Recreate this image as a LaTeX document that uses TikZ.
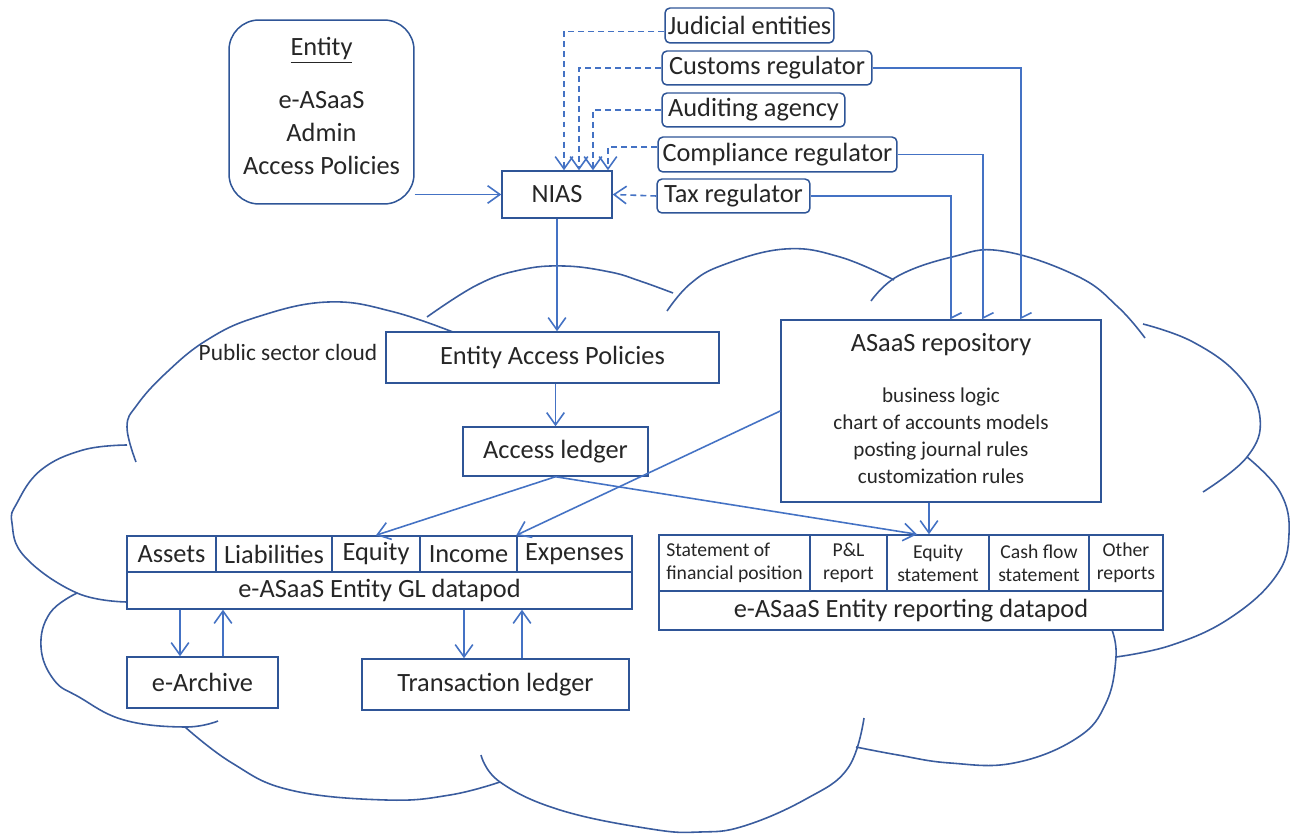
\documentclass[tikz,border=0pt]{standalone}
\usepackage{fontspec}
\setmainfont{Carlito}
\usepackage{xcolor}
\usepackage{tikz}
\usetikzlibrary{arrows.meta, calc, positioning}

\definecolor{boxblue}{HTML}{2F5597}
\definecolor{lineblue}{HTML}{4472C4}
\definecolor{cloudblue}{HTML}{3A5C9E}

\begin{document}
\begin{tikzpicture}[x=0.02cm,y=-0.02cm,
                    box node/.style={draw=boxblue,fill=white,line width=0.85pt,inner sep=0pt,align=center,text=black!85,font=\fontsize{15}{18.7}\selectfont},
                    reg node/.style={box node,rounded corners=0.1cm},
                    cell node/.style={box node,minimum height=0.72cm},
                    rep node/.style={box node,minimum height=1.12cm,font=\fontsize{11.2}{13}\selectfont},
                    text node/.style={inner sep=0pt,align=center,text=black!85},
                    arr/.style={draw=lineblue,line width=0.9pt,-{Straight Barb[length=7pt,width=10pt]}},
                    dash arr/.style={arr,dash pattern=on 3.4pt off 2.3pt},
                    half arr/.style={draw=lineblue,line width=0.9pt,-{Straight Barb[left,length=3pt,width=12pt]}},
                    cloud line/.style={draw=cloudblue,line width=0.9pt}]

 \fill[white] (0,0) rectangle (1292,834);
 \useasboundingbox (0,0) rectangle (1292,834);

 % public sector cloud, one bump after the other
 \draw[cloud line] plot[smooth,tension=0.7] coordinates {(136,462) (127,427) (137,405) (166,373) (207,340) (257,317) (328,302) (394,312) (463,336)};
 \draw[cloud line] plot[smooth,tension=0.7] coordinates {(427,317) (477,285) (520,270) (564,266) (610,272) (640,281) (673,293)};
 \draw[cloud line] plot[smooth,tension=0.7] coordinates {(667,311) (690,284) (723,265) (785,249) (840,257) (894,280)};
 \draw[cloud line] plot[smooth,tension=0.7] coordinates {(871,301) (898,276) (952,257) (1002,251) (1077,276) (1118,307) (1145,338)};
 \draw[cloud line] plot[smooth,tension=0.7] coordinates {(1143,324) (1193,342) (1239,376) (1260,418) (1247,457) (1203,492)};
 \draw[cloud line] plot[smooth,tension=0.7] coordinates {(1247,457) (1280,492) (1289,534) (1276,576) (1230,618) (1172,645) (1116,657)};
 \draw[cloud line] plot[smooth,tension=0.7] coordinates {(1112,630) (1116,657) (1106,703) (1077,738) (1014,763) (950,763) (898,755) (856,747)};
 \draw[cloud line] plot[smooth,tension=0.7] coordinates {(864,718) (848,768) (806,799) (744,826) (700,832) (651,829) (560,810) (500,782) (481,755)};
 \draw[cloud line] plot[smooth,tension=0.7] coordinates {(185,727) (232,763) (290,790) (386,800) (450,795) (500,782)};
 \draw[cloud line] plot[smooth,tension=0.7] coordinates {(77,593) (50,613) (41,647) (54,680) (79,697) (124,720) (185,727) (218,721)};
 \draw[cloud line] plot[smooth,tension=0.7] coordinates {(127,445) (83,450) (41,470) (17,503) (12,523) (25,557) (77,593) (127,602)};

 \node[text node,font=\fontsize{13.3}{16}\selectfont] (cloudname) at (288,352) {Public sector cloud};

 \node[box node,rounded corners=0.6cm,minimum width=3.7cm,minimum height=3.68cm] (entity) at (321.5,112) {};
 \node[text node,font=\fontsize{15}{18.7}\selectfont] (entitytext) at (321.5,106) {\underline{Entity}\\[0.4cm] e-ASaaS\\ Admin\\ Access Policies};

 \node[box node,minimum width=2.2cm,minimum height=0.94cm] (nias) at (557,194.5) {NIAS};

 \node[reg node,minimum width=3.38cm,minimum height=0.7cm] (judicial) at (749.5,25.5) {Judicial entities};
 \node[reg node,minimum width=4.2cm,minimum height=0.68cm] (customs) at (767,68) {Customs regulator};
 \node[reg node,minimum width=3.66cm,minimum height=0.68cm] (auditing) at (753.5,110) {Auditing agency};
 \node[reg node,minimum width=4.78cm,minimum height=0.7cm] (compliance) at (777.5,154.5) {Compliance regulator};
 \node[reg node,minimum width=3.06cm,minimum height=0.68cm] (tax) at (733.5,196) {Tax regulator};

 \node[box node,minimum width=6.66cm,minimum height=1.02cm] (eap) at (552.5,357.5) {Entity Access Policies};
 \node[box node,minimum width=3.7cm,minimum height=0.98cm] (accessl) at (555.5,451.5) {Access ledger};

 \node[box node,minimum width=6.4cm,minimum height=3.64cm] (repo) at (941,411) {};
 \node[text node,font=\fontsize{15}{18.7}\selectfont] (repotitle) at (941,345) {ASaaS repository};
 \node[text node,font=\fontsize{12}{15.3}\selectfont] (repotext) at (941,436) {business logic\\ chart of accounts models\\ posting journal rules\\ customization rules};

 % GL datapod
 \node[cell node,minimum width=1.78cm] (glassets) at (171.5,554) {Assets};
 \node[cell node,minimum width=2.32cm] (glliab) at (274,554) {Liabilities};
 \node[cell node,minimum width=1.76cm] (glequity) at (376,554) {Equity};
 \node[cell node,minimum width=1.94cm] (glincome) at (468.5,554) {Income};
 \node[cell node,minimum width=2.3cm] (glexpenses) at (574.5,554) {Expenses};
 \node[box node,minimum width=10.1cm,minimum height=0.74cm] (gldatapod) at (379.5,590.5) {e-ASaaS Entity GL datapod};

 % reporting datapod
 \node[rep node,minimum width=3.02cm,align=left] (rpfin) at (734.5,563) {Statement of\\ financial position};
 \node[rep node,minimum width=1.54cm] (rppl) at (848.5,563) {P\&L\\ report};
 \node[rep node,minimum width=2.04cm] (rpequity) at (938,563) {Equity\\ statement};
 \node[rep node,minimum width=2.0cm] (rpcash) at (1039,563) {Cash flow\\ statement};
 \node[rep node,minimum width=1.48cm] (rpother) at (1126,563) {Other\\ reports};
 \node[box node,minimum width=10.08cm,minimum height=0.78cm] (rpdatapod) at (911,610.5) {e-ASaaS Entity reporting datapod};

 \node[box node,minimum width=3.02cm,minimum height=1.02cm] (earchive) at (202.5,682.5) {e-Archive};
 \node[box node,minimum width=5.34cm,minimum height=1.02cm] (transl) at (495.5,684.5) {Transaction ledger};

 % access requests to NIAS
 \draw[arr] (entity.east |- nias.west) -- (nias.west);
 \draw[dash arr] ([yshift=-0.12cm]judicial.west) -| ([xshift=0.14cm]nias.north);
 \draw[dash arr] (customs.west) -| ([xshift=0.44cm]nias.north);
 \draw[dash arr] (auditing.west) -| ([xshift=0.72cm]nias.north);
 \draw[dash arr] ([yshift=0.15cm]compliance.west) -| ([xshift=1.02cm]nias.north);
 \draw[dash arr] (tax.west) -- (nias.east);

 % regulators to the repository
 \draw[half arr] (tax.east) -| ([xshift=0.2cm]repo.north);
 \draw[half arr] (compliance.east) -| ([xshift=0.84cm]repo.north);
 \draw[half arr] (customs.east) -| ([xshift=1.6cm]repo.north);

 \draw[arr] (nias.south) -- (nias.south |- eap.north);
 \draw[arr] (accessl.north |- eap.south) -- (accessl.north);
 \draw[arr] (accessl.south) -- (glequity.north);
 \draw[arr] (accessl.south) -- ([xshift=-0.42cm]rpequity.north);
 \draw[arr] (repo.west) -- (glexpenses.north west);
 \draw[arr] ([xshift=-0.24cm]repo.south) -- ([xshift=-0.24cm]repo.south |- rpequity.north);

 \draw[arr] ([xshift=-0.45cm]earchive.north |- gldatapod.south) -- ([xshift=-0.45cm]earchive.north);
 \draw[arr] ([xshift=0.41cm]earchive.north) -- ([xshift=0.41cm]earchive.north |- gldatapod.south);
 \draw[arr] ([xshift=-0.63cm]transl.north |- gldatapod.south) -- ([xshift=-0.63cm]transl.north);
 \draw[arr] ([xshift=0.53cm]transl.north) -- ([xshift=0.53cm]transl.north |- gldatapod.south);

\end{tikzpicture}
\end{document}
